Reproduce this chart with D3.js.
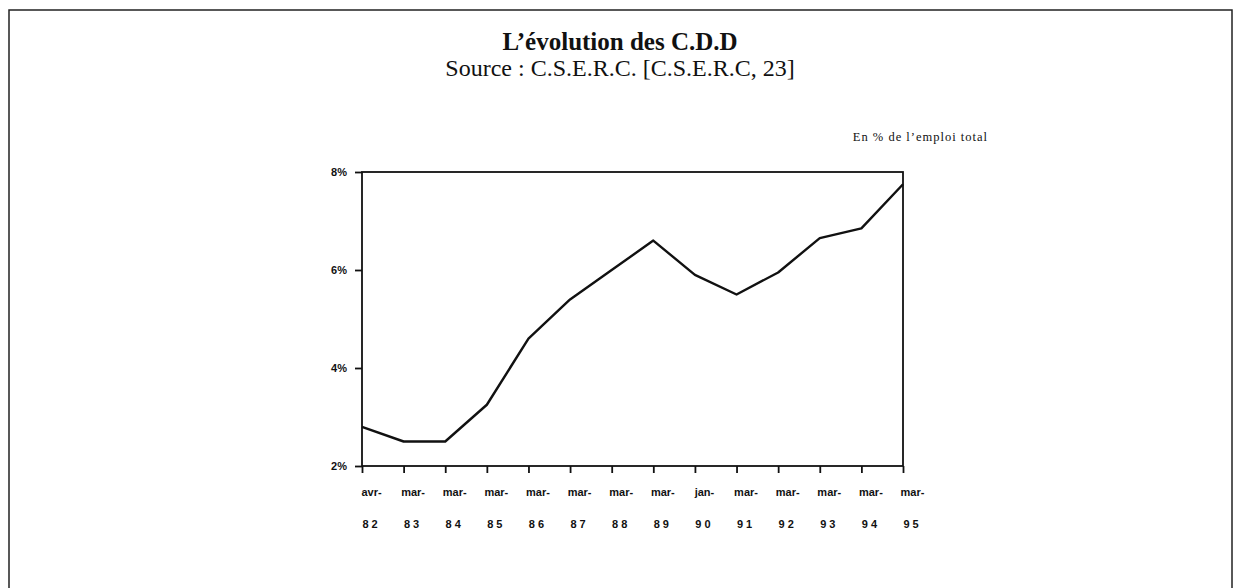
<!DOCTYPE html>
<meta charset="utf-8">
<style>
body { margin: 0; background: #fff; }
text { fill: #111; }
.title { font-family: "Liberation Serif", serif; font-size: 25px; font-weight: bold; }
.sub { font-family: "Liberation Serif", serif; font-size: 24px; }
.unit { font-family: "Liberation Serif", serif; font-size: 12.5px; letter-spacing: 1px; }
.axis text { font-family: "Liberation Sans", Arial, sans-serif; font-weight: bold; font-size: 11px; fill: #111; }
.axis path, .axis line { stroke: #111; stroke-width: 1.8px; }
</style>
<svg width="1239" height="588"></svg>
<script src="https://d3js.org/d3.v7.min.js"></script>
<script>

var months = ["avr-", "mar-", "mar-", "mar-", "mar-", "mar-", "mar-", "mar-", "jan-", "mar-", "mar-", "mar-", "mar-", "mar-"];
var years = ["82", "83", "84", "85", "86", "87", "88", "89", "90", "91", "92", "93", "94", "95"];
var values = [2.8, 2.5, 2.5, 3.25, 4.6, 5.4, 6.0, 6.6, 5.9, 5.5, 5.95, 6.65, 6.85, 7.75];
var yTicks = [2, 4, 6, 8];

var svg = d3.select("svg");

// outer frame of the page
svg.append("rect")
    .attr("x", 9).attr("y", 10)
    .attr("width", 1223).attr("height", 600)
    .attr("fill", "none").attr("stroke", "#222").attr("stroke-width", 1.5);

svg.append("text").attr("class", "title")
    .attr("x", 620).attr("y", 50).attr("text-anchor", "middle")
    .text("L\u2019évolution des C.D.D");
svg.append("text").attr("class", "sub")
    .attr("x", 620).attr("y", 76).attr("text-anchor", "middle")
    .text("Source : C.S.E.R.C. [C.S.E.R.C, 23]");
svg.append("text").attr("class", "unit")
    .attr("x", 988).attr("y", 141).attr("text-anchor", "end")
    .text("En % de l\u2019emploi total");

var margin = {left: 362, top: 172},
    width = 541, height = 294;

var g = svg.append("g").attr("transform", "translate(" + margin.left + "," + margin.top + ")");

var x = d3.scalePoint().domain(d3.range(values.length)).range([0, width]);
var y = d3.scaleLinear().domain([2, 8]).range([height, 0]);

// plot frame
g.append("rect")
    .attr("width", width).attr("height", height)
    .attr("fill", "none").attr("stroke", "#111").attr("stroke-width", 1.8);

g.append("g").attr("class", "axis")
    .call(d3.axisLeft(y).tickValues(yTicks).tickSize(7).tickPadding(8)
        .tickFormat(function(d) { return d + "%"; }))
    .call(function(a) { a.select(".domain").remove(); });

var xa = g.append("g").attr("class", "axis")
    .attr("transform", "translate(0," + height + ")")
    .call(d3.axisBottom(x).tickSize(7).tickFormat(""));
xa.select(".domain").remove();

var lab = xa.selectAll(".tick");
lab.append("text")
    .attr("x", 9).attr("y", 30).attr("text-anchor", "middle")
    .text(function(d) { return months[d]; });
lab.append("text")
    .attr("x", 9).attr("y", 62).attr("text-anchor", "middle")
    .style("letter-spacing", "3px")
    .text(function(d) { return years[d]; });

var line = d3.line()
    .x(function(d, i) { return x(i); })
    .y(function(d) { return y(d); });

g.append("path")
    .datum(values)
    .attr("d", line)
    .attr("fill", "none")
    .attr("stroke", "#111")
    .attr("stroke-width", 2.4)
    .attr("stroke-linejoin", "round");

</script>
